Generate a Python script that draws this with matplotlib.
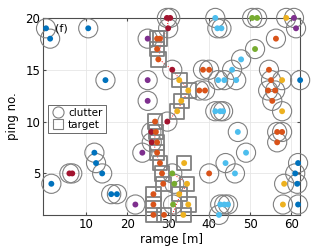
import matplotlib
matplotlib.use("Agg")
import matplotlib.pyplot as plt
import numpy as np

# matlab default line colours
cols = {'b': '#0072BD', 'o': '#D95319', 'y': '#EDB120', 'p': '#7E2F8E',
        'g': '#77AC30', 'c': '#4DBEEE', 'r': '#A2142F'}

# clutter detections: range [m], ping no., colour code
clutter_range = [29.7, 30.5, 41.5, 50.5, 51.7, 58.8, 60.7,
                 0.2, 10.5, 30.0, 42.0, 43.0, 61.2,
                 1.2, 25.0, 56.3,
                 51.2,
                 47.8,
                 31.0, 38.5, 40.0, 45.6, 54.6,
                 14.7, 25.0, 42.2, 43.7, 46.6, 55.1, 57.8, 62.2,
                 37.6, 39.0, 54.4, 56.1,
                 25.0, 55.4,
                 41.5, 42.7, 43.4, 57.8,
                 29.8,
                 25.9, 47.0, 56.6, 57.8,
                 26.0, 56.6,
                 12.0, 23.7, 49.0,
                 12.4, 44.0, 61.7,
                 5.9, 6.6, 13.9, 31.0, 40.0, 46.3, 61.0,
                 1.5, 31.5, 58.3, 61.5,
                 16.1, 17.5,
                 22.0, 31.2, 42.7, 43.7, 44.6, 58.0, 61.7,
                 42.4]
clutter_ping = [20, 20, 20, 20, 20, 20, 20,
                19, 19, 19, 19, 19, 19,
                18, 18, 18,
                17,
                16,
                15, 15, 15, 15, 15,
                14, 14, 14, 14, 14, 14, 14, 14,
                13, 13, 13, 13,
                12, 12,
                11, 11, 11, 11,
                10,
                9, 9, 9, 9,
                8, 8,
                7, 7, 7,
                6, 6, 6,
                5, 5, 5, 5, 5, 5, 5,
                4, 4, 4, 4,
                3, 3,
                2, 2, 2, 2, 2, 2, 2,
                1]
clutter_col = ['r', 'r', 'c', 'g', 'g', 'y', 'p',
               'b', 'b', 'r', 'c', 'c', 'p',
               'b', 'p', 'o',
               'g',
               'c',
               'r', 'o', 'o', 'c', 'o',
               'b', 'p', 'c', 'c', 'c', 'o', 'y', 'b',
               'o', 'o', 'o', 'o',
               'p', 'o',
               'c', 'c', 'c', 'y',
               'r',
               'r', 'c', 'o', 'o',
               'r', 'o',
               'b', 'p', 'c',
               'b', 'c', 'b',
               'r', 'r', 'b', 'g', 'o', 'c', 'b',
               'b', 'g', 'y', 'b',
               'b', 'b',
               'p', 'g', 'c', 'c', 'c', 'y', 'b',
               'c']

# target detections
target_range = [27.3, 28.0, 27.3, 27.6,
                32.7, 34.9, 33.2, 32.2,
                26.8, 27.0, 27.3, 27.3,
                28.0, 33.9, 28.5, 28.8, 34.6,
                26.4, 32.7, 26.4, 34.9, 26.4, 29.0, 33.7]
target_ping = [18, 18, 17, 16,
               14, 13, 12, 11,
               10, 9, 8, 7,
               6, 6, 5, 4, 4,
               3, 3, 2, 2, 1, 1, 1]
target_col = ['o', 'o', 'o', 'o',
              'y', 'y', 'y', 'y',
              'o', 'o', 'o', 'o',
              'o', 'y', 'o', 'o', 'y',
              'o', 'y', 'o', 'y', 'o', 'o', 'y']

# true track
track_ping = list(range(20, 0, -1))
track_range = [30.0, 29.8, 28.5, 28.0, 27.8, 31.0, 33.0, 35.0, 33.5, 32.2,
               29.8, 27.0, 26.5, 27.0, 28.0, 31.0, 34.7, 33.0, 32.0, 31.0]

fig = plt.figure(figsize=(3.32, 2.49), dpi=100)
ax = fig.add_axes([0.13, 0.137, 0.774, 0.791])

ax.grid(True, color='0.9', linewidth=0.6)
ax.set_axisbelow(True)

ax.plot(track_range, track_ping, ':', color='red', linewidth=0.7, zorder=2)

ax.scatter(clutter_range, clutter_ping, s=190, facecolors='none',
           edgecolors='0.5', linewidths=0.8, zorder=3, clip_on=False)
ax.scatter(target_range, target_ping, s=110, marker='s', facecolors='none',
           edgecolors='0.5', linewidths=1.3, zorder=3, clip_on=False)
ax.scatter(clutter_range, clutter_ping, s=18, clip_on=False,
           c=[cols[k] for k in clutter_col], zorder=4, linewidths=0)
ax.scatter(target_range, target_ping, s=18, clip_on=False,
           c=[cols[k] for k in target_col], zorder=4, linewidths=0)

# legend handles
h1, = ax.plot([], [], 'o', mfc='none', mec='0.5', ms=8, mew=0.8, label='clutter')
h2, = ax.plot([], [], 's', mfc='none', mec='0.5', ms=7, mew=0.8, label='target')
leg = ax.legend(handles=[h1, h2], loc='upper left', bbox_to_anchor=(0.02, 0.56),
                fontsize=7.5, frameon=True, fancybox=False, borderpad=0.3,
                handletextpad=0.4, labelspacing=0.2, handlelength=1.2,
                borderaxespad=0)
leg.get_frame().set_edgecolor('0.15')
leg.get_frame().set_linewidth(0.6)
leg.set_zorder(6)

ax.text(2.5, 19.0, '(f)', fontsize=8, va='center', ha='left', zorder=5)

ax.set_xlim(-0.5, 62.2)
ax.set_ylim(1, 20)
ax.set_xticks([10, 20, 30, 40, 50, 60])
ax.set_yticks([5, 10, 15, 20])
ax.tick_params(labelsize=8.5, direction='in', length=2.5, color='0.3',
               top=True, right=True, pad=2)
for s in ax.spines.values():
    s.set_color('0.3')
    s.set_linewidth(0.8)
ax.set_xlabel('ramge [m]', fontsize=8.5, labelpad=2)
ax.set_ylabel('ping no.', fontsize=8.5, labelpad=5)

fig.savefig('out.png', dpi=100)
